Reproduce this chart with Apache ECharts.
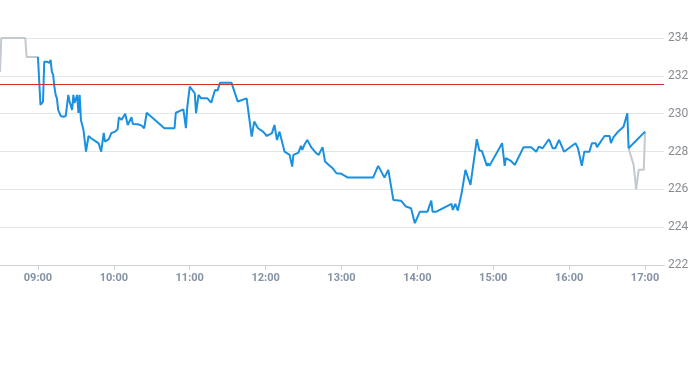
<!DOCTYPE html>
<html><head><meta charset="utf-8">
<script src="https://cdn.jsdelivr.net/npm/echarts@6/dist/echarts.min.js"></script>
<style>html,body{margin:0;padding:0;background:#fff}#c{width:693px;height:365px}</style>
</head><body><div id="c"></div>
<script>
const tickLabels = ["09:00","10:00","11:00","12:00","13:00","14:00","15:00","16:00","17:00"];
const yTicks = [222,224,226,228,230,232,234];
const refLevel = 231.58;

const mainTimes = ["09:00","09:02","09:03","09:04","09:05","09:07","09:09","09:10","09:11","09:12","09:13","09:14","09:15","09:16","09:17","09:18","09:20","09:22","09:24","09:25","09:27","09:28","09:29","09:31","09:32","09:33","09:34","09:35","09:36","09:38","09:40","09:42","09:46","09:48","09:49","09:50","09:52","09:53","09:56","09:58","10:01","10:03","10:04","10:06","10:09","10:10","10:11","10:14","10:15","10:19","10:22","10:24","10:26","10:40","10:48","10:49","10:55","10:57","10:58","11:00","11:04","11:05","11:07","11:09","11:14","11:17","11:20","11:22","11:24","11:33","11:34","11:38","11:45","11:49","11:51","11:54","11:58","12:01","12:05","12:07","12:09","12:11","12:15","12:19","12:21","12:22","12:26","12:28","12:29","12:31","12:33","12:36","12:40","12:42","12:45","12:47","12:50","12:53","12:56","13:00","13:05","13:25","13:29","13:34","13:37","13:41","13:47","13:51","13:52","13:55","13:58","14:02","14:08","14:11","14:12","14:15","14:27","14:28","14:30","14:32","14:35","14:38","14:42","14:47","14:49","14:51","14:55","14:56","14:57","15:07","15:09","15:10","15:14","15:17","15:24","15:30","15:34","15:36","15:39","15:44","15:47","15:49","15:52","15:56","16:05","16:07","16:10","16:12","16:16","16:18","16:21","16:22","16:28","16:32","16:33","16:35","16:36","16:38","16:43","16:46","16:47","17:00"];
const mainValues = [233.0,230.46,230.41,230.64,232.75,232.75,232.68,232.84,232.22,232.05,231.43,230.99,230.81,230.2,230.3,229.88,229.84,229.88,230.99,230.64,230.2,230.99,230.57,230.99,230.04,230.99,229.67,229.4,229.14,227.99,228.82,228.7,228.52,228.43,228.4,227.99,228.98,228.52,228.65,228.97,229.05,229.18,229.81,229.67,230.0,229.93,229.4,229.81,229.46,229.44,229.37,229.23,230.05,229.23,229.23,230.05,230.23,229.23,230.29,231.43,231.08,230.02,230.99,230.81,230.81,230.58,231.25,231.22,231.64,231.64,231.6,230.64,230.81,228.79,229.58,229.23,229.05,228.82,228.97,229.4,228.61,229.05,227.99,227.82,227.2,227.82,227.94,228.3,228.08,228.4,228.61,228.23,227.91,227.82,228.23,227.47,227.29,227.12,226.85,226.82,226.62,226.62,227.24,226.62,227.03,225.44,225.4,225.09,225.0,225.0,224.21,224.82,224.82,225.4,224.82,224.82,225.23,224.91,225.23,224.88,225.8,227.03,226.23,228.65,228.05,228.03,227.24,227.38,227.24,228.44,227.24,227.65,227.5,227.29,228.23,228.23,227.99,228.26,228.17,228.65,228.17,228.17,228.61,227.99,228.44,228.17,227.24,227.99,227.99,228.44,228.44,228.23,228.82,228.82,228.44,228.75,228.65,229.0,229.31,230.02,228.17,229.05];

const preTimes = ["08:30","08:31","08:50","08:51","09:00"];
const preValues = [232.2,234.0,234.0,233.0,233.0];
const postTimes = ["16:47","16:48","16:51","16:53","16:55","16:59","17:00"];
const postValues = [228.17,228.17,227.29,226.0,227.03,227.03,229.05];

function toMin(s){const p=s.split(':');return (+p[0])*60+(+p[1]);}
function pad(n){return (n<10?'0':'')+n;}
function fmt(m){return pad(Math.floor(m/60))+':'+pad(m%60);}
function pairs(t,v){return t.map((s,i)=>[toMin(s),v[i]]);}

const grayData = pairs(preTimes,preValues).concat([[null,null]]).concat(pairs(postTimes,postValues));
const blueData = pairs(mainTimes,mainValues);
const tickMins = tickLabels.map(toMin);

const chart = echarts.init(document.getElementById('c'), null, {renderer:'canvas'});
chart.setOption({
  animation:false,
  grid:{left:0,right:29,top:38,bottom:100,containLabel:false},
  xAxis:{
    type:'value', min:toMin("08:30"), max:toMin("17:15"),
    axisLine:{show:true,lineStyle:{color:'#ccd3dc',width:1}},
    axisTick:{show:true,length:5,lineStyle:{color:'#ccd3dc'},customValues:tickMins},
    axisLabel:{customValues:tickMins,formatter:v=>fmt(v),color:'#8392a5',fontSize:11,fontWeight:'bold',fontFamily:'Roboto, sans-serif',margin:8},
    splitLine:{show:false}
  },
  yAxis:{
    type:'value', position:'right', min:yTicks[0], max:yTicks[yTicks.length-1], interval:2,
    axisLine:{show:false}, axisTick:{show:false},
    axisLabel:{color:'#888c91',fontSize:12,fontFamily:'Roboto, sans-serif',margin:4},
    splitLine:{show:true,lineStyle:{color:'#e3e6ea',width:1}}
  },
  series:[
    {type:'line',data:grayData,showSymbol:false,connectNulls:false,lineStyle:{color:'#c3c9d0',width:2},z:2},
    {type:'line',data:blueData,showSymbol:false,lineStyle:{color:'#1a90e0',width:2},z:3,
     markLine:{silent:true,symbol:['none','none'],label:{show:false},
       lineStyle:{color:'#d0312d',width:1,type:'solid'},data:[{yAxis:refLevel}]}}
  ]
});
</script></body></html>
